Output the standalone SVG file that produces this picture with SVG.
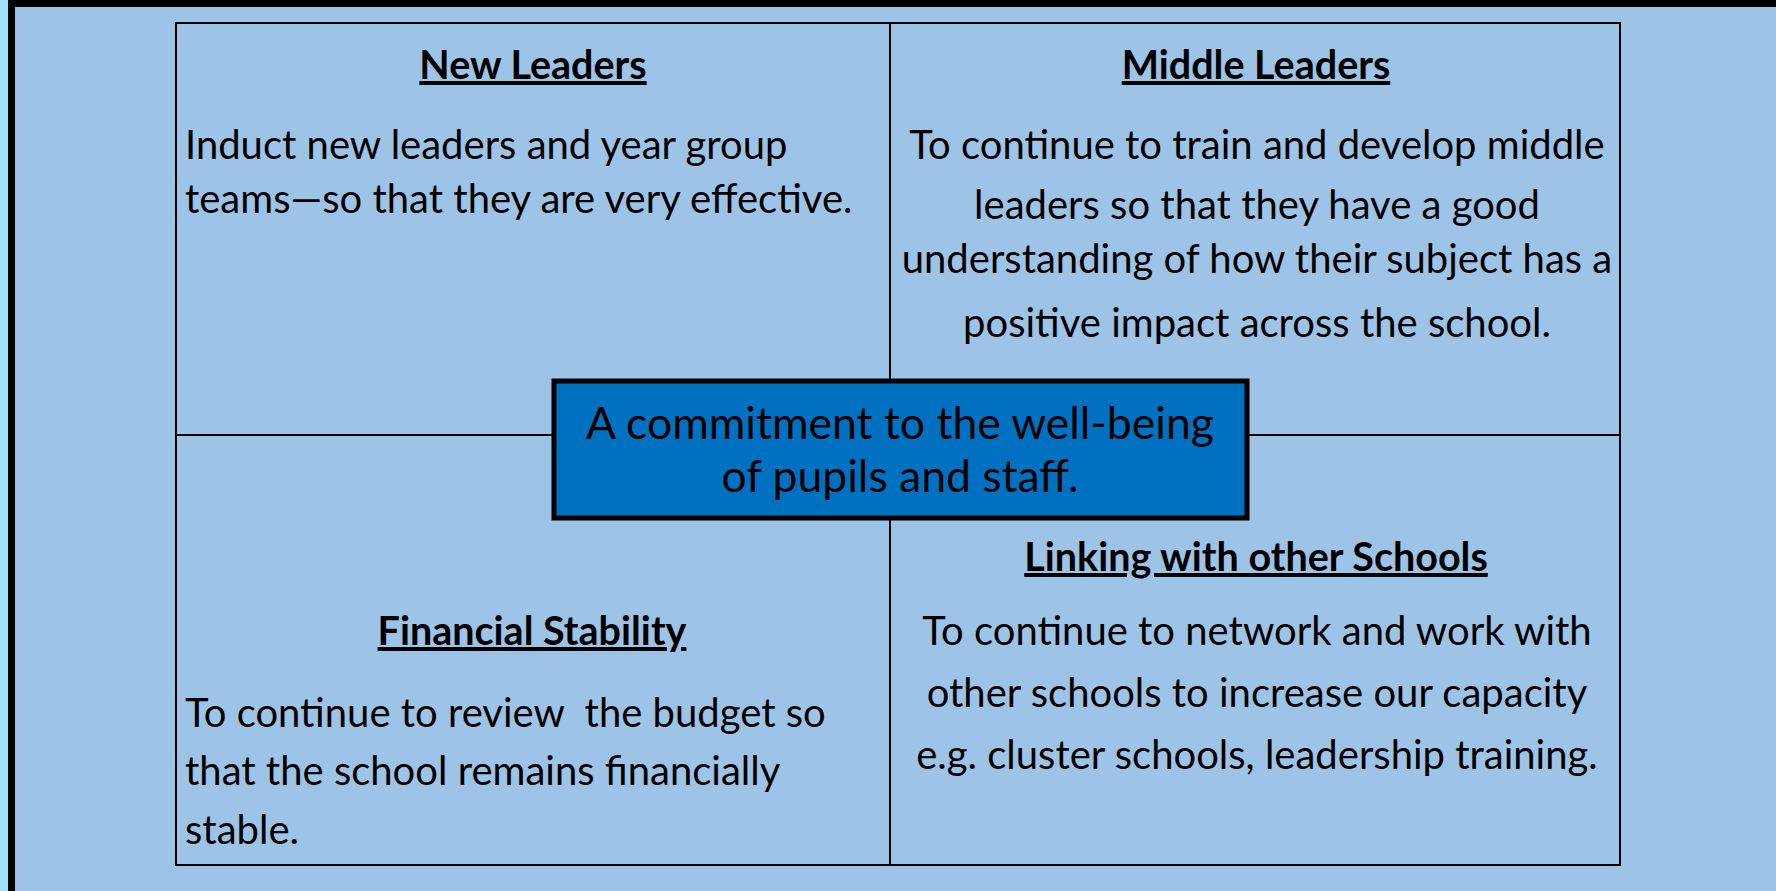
<svg xmlns="http://www.w3.org/2000/svg" width="1776" height="891" viewBox="0 0 1776 891">
<style>
.t{font-family:Lato,"Liberation Sans",sans-serif;font-size:40px;fill:#000}
.h{font-weight:bold;text-decoration:underline;text-anchor:middle;font-size:39.5px}
.c{text-anchor:middle}
.line{stroke:#000;stroke-width:2;fill:none}
</style>
<rect x="0" y="0" width="1776" height="891" fill="#A0E0FF"/>
<rect x="11.5" y="3.5" width="1800" height="1000" fill="#9DC3E6" stroke="#000" stroke-width="7"/>
<g id="grid">
<rect class="line" x="176" y="23" width="1444" height="842"/>
<line class="line" x1="890" y1="23" x2="890" y2="865"/>
<line class="line" x1="176" y1="435" x2="1620" y2="435"/>
</g>
<g id="new-leaders">
<text class="t h" x="533" y="79">New Leaders</text>
<text class="t" x="185" y="159">Induct new leaders and year group</text>
<text class="t" x="185" y="213">teams—so that they are very effective.</text>
</g>
<g id="middle-leaders">
<text class="t h" x="1256" y="79">Middle Leaders</text>
<text class="t c" x="1257" y="159">To continue to train and develop middle</text>
<text class="t c" x="1257" y="219">leaders so that they have a good</text>
<text class="t c" x="1257" y="273">understanding of how their subject has a</text>
<text class="t c" x="1257" y="337">positive impact across the school.</text>
</g>
<g id="financial">
<text class="t h" x="532" y="645">Financial Stability</text>
<text class="t" x="185" y="727" xml:space="preserve">To continue to review  the budget so</text>
<text class="t" x="185" y="785">that the school remains financially</text>
<text class="t" x="185" y="844">stable.</text>
</g>
<g id="linking">
<text class="t h" x="1256" y="571">Linking with other Schools</text>
<text class="t c" x="1257" y="645">To continue to network and work with</text>
<text class="t c" x="1257" y="707">other schools to increase our capacity</text>
<text class="t c" x="1257" y="769">e.g. cluster schools, leadership training.</text>
</g>
<g id="center">
<rect x="554" y="381" width="693" height="137" fill="#0070C0" stroke="#000" stroke-width="5"/>
<text class="t c" x="900" y="439" style="font-size:44.5px">A commitment to the well-being</text>
<text class="t c" x="900" y="492" style="font-size:44.5px">of pupils and staff.</text>
</g>
</svg>
